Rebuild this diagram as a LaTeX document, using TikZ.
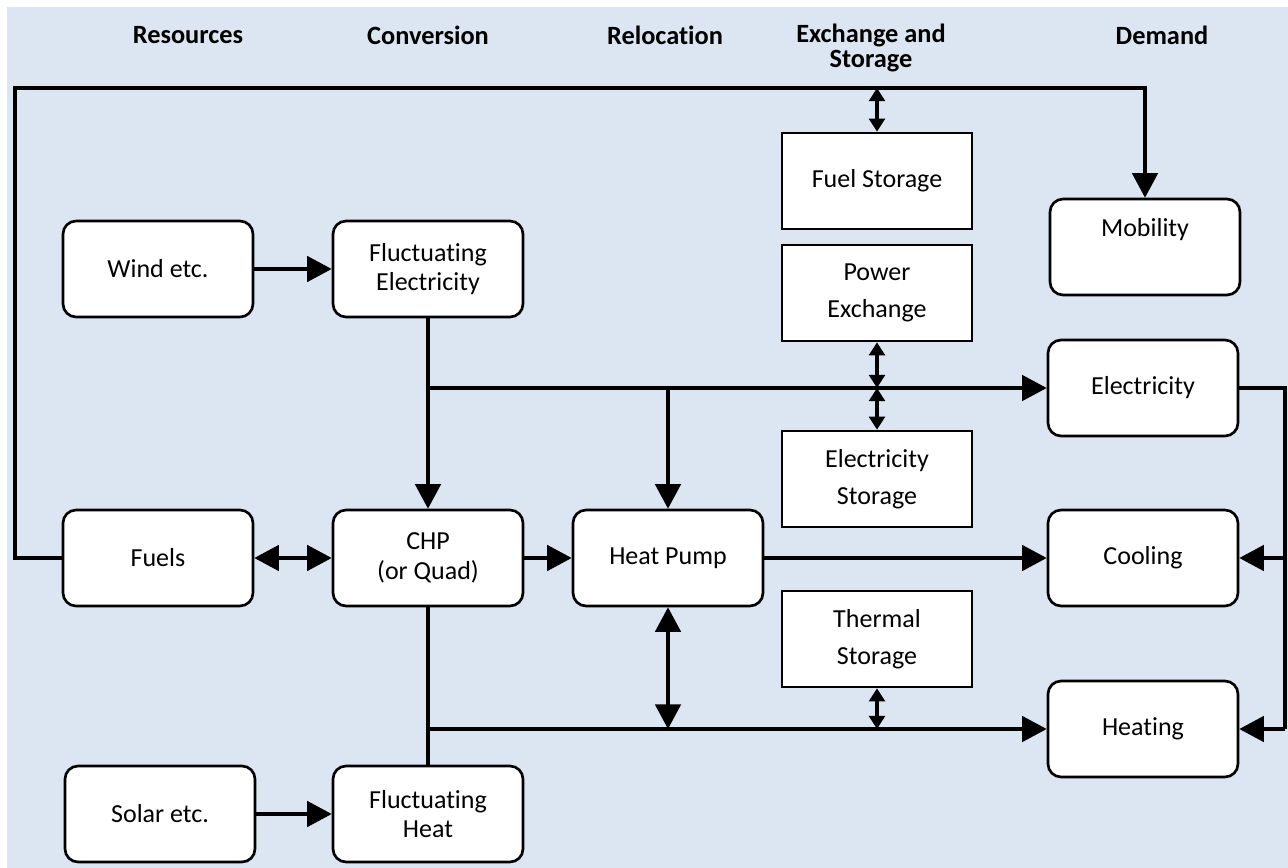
\documentclass[tikz,border=0pt]{standalone}
\usepackage{fontspec}
\setmainfont{Carlito}[Ligatures={NoCommon,NoContextual},RawFeature={-liga;-clig;-dlig}]
\usetikzlibrary{arrows.meta,positioning,calc}
\definecolor{bgblue}{HTML}{DCE6F2}

\begin{document}
\begin{tikzpicture}[x=0.02cm, y=-0.02cm, line width=1.9pt, >={Triangle[length=14pt,width=14.5pt]}]
        \tikzstyle{every node}=[font=\fontsize{14.8}{17}\selectfont, text=black]
        \tikzstyle{block}=[draw=black, fill=white, line width=1.5pt, rounded corners=7.4pt, minimum width=3.8cm, minimum height=1.92cm, align=center, inner sep=2pt]
        \tikzstyle{store}=[block, rounded corners=0pt, font=\fontsize{14.8}{21}\selectfont]
        \tikzstyle{head}=[font=\fontsize{15}{14.5}\selectfont\bfseries, align=center]
        \tikzstyle{twoway}=[{Triangle[length=7.5pt,width=9pt]}-{Triangle[length=7.5pt,width=9pt]}]

        \useasboundingbox (0,0) rectangle (1288,868);
        \fill[bgblue] (7,7) rectangle (1288,868);

        \node[head]     (hres)  at (188,35)     {Resources};
        \node[head]     (hcon)  at (428,35)     {Conversion};
        \node[head]     (hrel)  at (665,35)     {Relocation};
        \node[head]     (hexs)  at (871,48)     {Exchange and\\Storage};
        \node[head]     (hdem)  at (1162,35)    {Demand};

        \node[block]    (wind)  at (158,269)    {Wind etc.};
        \node[block]    (fel)   at (428,269)    {Fluctuating\\Electricity};
        \node[block]    (fuels) at (158,558)    {Fuels};
        \node[block]    (chp)   at (428,558)    {CHP\\(or Quad)};
        \node[block]    (hp)    at (668,558)    {Heat Pump};
        \node[block]    (solar) at (160,814)    {Solar etc.};
        \node[block]    (fht)   at (428,814)    {Fluctuating\\Heat};

        \node[store]    (fsto)  at (877,181)    {Fuel Storage};
        \node[store]    (pex)   at (877,293)    {Power\\Exchange};
        \node[store]    (esto)  at (877,479)    {Electricity\\Storage};
        \node[store]    (tsto)  at (877,639)    {Thermal\\Storage};

        \node[block]    (mob)   at (1145,247)   {Mobility\\\strut};
        \node[block]    (elec)  at (1143,388)   {Electricity};
        \node[block]    (cool)  at (1143,558)   {Cooling};
        \node[block]    (heat)  at (1143,729)   {Heating};

        \coordinate (loop) at (15,88);
        \coordinate (ebus) at (428,388);
        \coordinate (hbus) at (428,729);
        \coordinate (rbus) at (1285,388);

        \path
            (wind)  edge[->]    (fel)
            (solar) edge[->]    (fht)
            (fuels) edge[<->]   (chp)
            (chp)   edge[->]    (hp)
            (hp)    edge[->]    (cool)
            (fel)   edge[->]    (chp)
            (chp)   edge        (fht)
        ;

        \draw[->] (fuels.west) -| (loop) -| (mob.north);
        \draw[twoway] (fsto.north |- loop) -- (fsto.north);

        \draw[->] (ebus) -- (elec.west);
        \draw[->] (hp.north |- ebus) -- (hp.north);
        \draw[twoway] (pex.south) -- (pex.south |- ebus);
        \draw[twoway] (esto.north |- ebus) -- (esto.north);

        \draw[->] (hbus) -- (heat.west);
        \draw[<->] (hp.south) -- (hp.south |- hbus);
        \draw[twoway] (tsto.south) -- (tsto.south |- hbus);

        \draw (elec.east) -- (rbus) -- (rbus |- heat.east);
        \draw[->] (rbus |- cool.east) -- (cool.east);
        \draw[->] (rbus |- heat.east) -- (heat.east);
    \end{tikzpicture}
\end{document}
